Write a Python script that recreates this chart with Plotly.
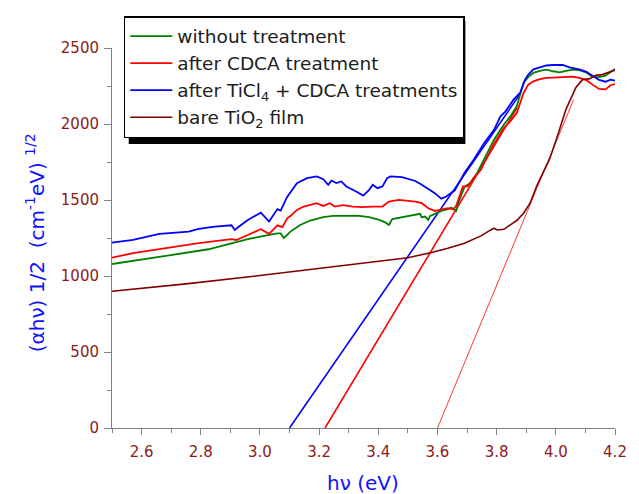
import plotly.graph_objects as go

# ---- data ----
green_x = [2.50, 2.571, 2.682, 2.826, 2.904, 2.959, 3.014, 3.059, 3.070, 3.081, 3.103, 3.136, 3.170,
           3.214, 3.247, 3.292, 3.336, 3.369, 3.403, 3.425, 3.436, 3.447, 3.480, 3.525, 3.541, 3.547,
           3.558, 3.569, 3.575, 3.580, 3.613, 3.635, 3.646, 3.663, 3.669, 3.691, 3.713, 3.735, 3.758,
           3.791, 3.824, 3.846, 3.868, 3.891, 3.907, 3.924, 3.946, 3.968, 3.991, 4.013, 4.035, 4.057,
           4.079, 4.102, 4.124, 4.146, 4.168, 4.185, 4.20]
green_y = [1079, 1099, 1132, 1176, 1216, 1242, 1264, 1281, 1280, 1250, 1292, 1336, 1365,
           1387, 1396, 1396, 1396, 1387, 1369, 1351, 1336, 1374, 1387, 1405, 1409, 1385,
           1391, 1369, 1395, 1399, 1428, 1439, 1450, 1428, 1472, 1585, 1615, 1681, 1770,
           1897, 1995, 2050, 2117, 2270, 2310, 2336, 2350, 2358, 2347, 2340, 2350, 2358,
           2355, 2340, 2308, 2308, 2318, 2340, 2362]

red_x = [2.50, 2.571, 2.682, 2.793, 2.904, 2.920, 2.959, 3.003, 3.031, 3.059, 3.076, 3.092, 3.103,
         3.125, 3.148, 3.170, 3.192, 3.214, 3.236, 3.253, 3.281, 3.314, 3.347, 3.381, 3.414, 3.436,
         3.469, 3.502, 3.525, 3.547, 3.569, 3.591, 3.613, 3.635, 3.652, 3.663, 3.686, 3.702, 3.724,
         3.747, 3.758, 3.780, 3.791, 3.824, 3.846, 3.868, 3.891, 3.907, 3.924, 3.946, 3.968, 3.991,
         4.024, 4.057, 4.079, 4.102, 4.124, 4.146, 4.168, 4.185, 4.20]
red_y = [1121, 1150, 1183, 1216, 1242, 1237, 1270, 1308, 1277, 1333, 1321, 1380, 1395,
         1435, 1457, 1470, 1479, 1461, 1479, 1457, 1466, 1457, 1453, 1457, 1457, 1490,
         1501, 1494, 1490, 1479, 1446, 1428, 1435, 1446, 1439, 1460, 1589, 1589, 1650,
         1699, 1745, 1831, 1870, 1974, 2017, 2072, 2204, 2259, 2281, 2295, 2303, 2305,
         2310, 2312, 2303, 2290, 2259, 2231, 2228, 2255, 2262]

blue_x = [2.50, 2.571, 2.660, 2.759, 2.793, 2.848, 2.904, 2.915, 2.926, 2.959, 3.003, 3.031, 3.059,
          3.070, 3.092, 3.125, 3.159, 3.192, 3.214, 3.231, 3.242, 3.258, 3.275, 3.292, 3.325, 3.349,
          3.369, 3.381, 3.397, 3.414, 3.430, 3.441, 3.480, 3.502, 3.525, 3.547, 3.569, 3.591, 3.613,
          3.630, 3.641, 3.658, 3.691, 3.724, 3.758, 3.791, 3.813, 3.830, 3.857, 3.879, 3.896, 3.907,
          3.924, 3.946, 3.968, 3.991, 4.024, 4.046, 4.079, 4.102, 4.124, 4.146, 4.168, 4.185, 4.20]
blue_y = [1220, 1237, 1277, 1292, 1310, 1325, 1334, 1303, 1321, 1369, 1417, 1358, 1440,
          1430, 1520, 1611, 1644, 1655, 1637, 1600, 1628, 1611, 1622, 1589, 1556, 1529,
          1567, 1600, 1578, 1589, 1644, 1655, 1651, 1637, 1625, 1600, 1572, 1545, 1509,
          1523, 1540, 1562, 1677, 1770, 1875, 1962, 2050, 2083, 2160, 2204, 2292, 2325,
          2360, 2375, 2385, 2388, 2388, 2372, 2360, 2345, 2318, 2290, 2278, 2292, 2285]

brown_x = [2.50, 2.75, 3.00, 3.25, 3.30, 3.50, 3.58, 3.635, 3.691, 3.747, 3.780, 3.791, 3.802,
           3.824, 3.846, 3.868, 3.891, 3.913, 3.935, 3.957, 3.979, 4.002, 4.035, 4.068, 4.090,
           4.113, 4.135, 4.157, 4.179, 4.20]
brown_y = [900, 948, 1003, 1060, 1075, 1120, 1155, 1182, 1215, 1264, 1303, 1314, 1303,
           1307, 1336, 1365, 1413, 1479, 1590, 1680, 1770, 1900, 2100, 2240, 2292,
           2297, 2320, 2325, 2340, 2355]

# linear fits (Tauc extrapolations): end points
blue_fit_x = [3.10, 3.88]
blue_fit_y = [0, 2200]
red_fit_x = [3.22, 3.87]
red_fit_y = [0, 2110]
bare_fit_x = [3.60, 4.06]
bare_fit_y = [0, 2160]

x_ticks = [2.6, 2.8, 3.0, 3.2, 3.4, 3.6, 3.8, 4.0, 4.2]
y_ticks = [0, 500, 1000, 1500, 2000, 2500]

names = ["without treatment", "after CDCA treatment",
         "after TiCl<sub>4</sub> + CDCA treatments", "bare TiO<sub>2</sub> film"]

GREEN, RED, BLUE, BROWN = "#008000", "#FF0000", "#0000FF", "#800000"
TICKCOL = "#8B1A1A"
FONT = "DejaVu Sans"

fig = go.Figure()
fig.add_trace(go.Scatter(x=blue_fit_x, y=blue_fit_y, mode="lines", showlegend=False,
                         line=dict(color=BLUE, width=1.6), hoverinfo="skip"))
fig.add_trace(go.Scatter(x=red_fit_x, y=red_fit_y, mode="lines", showlegend=False,
                         line=dict(color=RED, width=1.6), hoverinfo="skip"))
fig.add_trace(go.Scatter(x=bare_fit_x, y=bare_fit_y, mode="lines", showlegend=False,
                         line=dict(color=RED, width=0.8), hoverinfo="skip"))
fig.add_trace(go.Scatter(x=green_x, y=green_y, mode="lines", name=names[0],
                         line=dict(color=GREEN, width=1.8)))
fig.add_trace(go.Scatter(x=red_x, y=red_y, mode="lines", name=names[1],
                         line=dict(color=RED, width=1.8)))
fig.add_trace(go.Scatter(x=blue_x, y=blue_y, mode="lines", name=names[2],
                         line=dict(color=BLUE, width=1.8)))
fig.add_trace(go.Scatter(x=brown_x, y=brown_y, mode="lines", name=names[3],
                         line=dict(color=BROWN, width=1.6)))

L, R, T, B = 112, 16, 48, 66
W, H = 639, 494
pw, ph = W - L - R, H - T - B

def px2paper_x(px):
    return (px - L) / pw

def px2paper_y(py):
    return (H - B - py) / ph

fig.update_layout(
    width=W, height=H,
    margin=dict(l=L, r=R, t=T, b=B),
    paper_bgcolor="white", plot_bgcolor="white",
    font=dict(family=FONT, size=15, color=TICKCOL),
    xaxis=dict(range=[2.5, 4.2], tickvals=x_ticks, ticktext=[f"{v:.1f}" for v in x_ticks],
               showgrid=False, zeroline=False, showline=True, linecolor="#808080", linewidth=1,
               ticks="outside", ticklen=6, tickcolor="#808080", tickwidth=1,
               ticklabelstandoff=4,
               tickfont=dict(family=FONT, size=15, color=TICKCOL),
               minor=dict(tickvals=[2.5, 2.7, 2.9, 3.1, 3.3, 3.5, 3.7, 3.9, 4.1],
                          ticks="outside", ticklen=4, tickcolor="#808080", showgrid=False)),
    yaxis=dict(range=[0, 2500], tickvals=y_ticks,
               showgrid=False, zeroline=False, showline=True, linecolor="#808080", linewidth=1,
               ticks="outside", ticklen=7, tickcolor="#808080", tickwidth=1,
               ticklabelstandoff=2,
               tickfont=dict(family=FONT, size=15, color=TICKCOL),
               minor=dict(tickvals=[250, 750, 1250, 1750, 2250],
                          ticks="outside", ticklen=4, tickcolor="#808080", showgrid=False)),
    legend=dict(x=px2paper_x(124), y=px2paper_y(16), xanchor="left", yanchor="top",
                bgcolor="white", bordercolor="black", borderwidth=1.5,
                font=dict(family=FONT, size=18.5, color="#202020"),
                tracegroupgap=0, itemwidth=42),
    showlegend=True,
)

# legend drop shadow
fig.add_shape(type="rect", xref="paper", yref="paper",
              x0=px2paper_x(129), x1=px2paper_x(471),
              y0=px2paper_y(144), y1=px2paper_y(21),
              fillcolor="black", line=dict(width=0), layer="above")

fig.add_annotation(text="(αhν) 1/2  (cm<sup>-1</sup>eV) <sup>1/2</sup>",
                   xref="paper", yref="paper", x=px2paper_x(34), y=px2paper_y(243),
                   textangle=-90, showarrow=False, xanchor="center", yanchor="middle",
                   font=dict(family=FONT, size=20, color="#1010FF"))
fig.add_annotation(text="hν (eV)", xref="paper", yref="paper",
                   x=px2paper_x(367), y=px2paper_y(483), showarrow=False,
                   xanchor="center", yanchor="middle",
                   font=dict(family=FONT, size=20, color="#1010FF"))

fig.write_html("out.html")
